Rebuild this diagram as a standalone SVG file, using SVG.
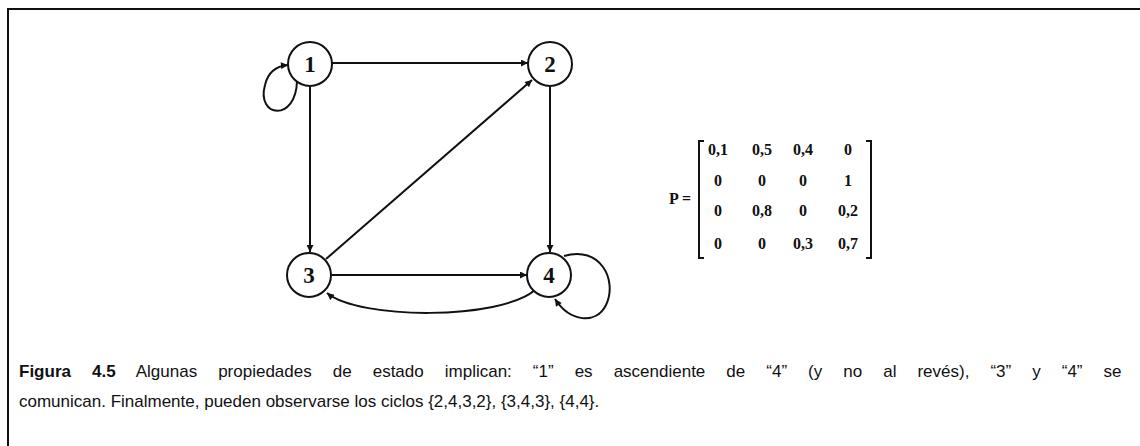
<svg xmlns="http://www.w3.org/2000/svg" width="1140" height="446" viewBox="0 0 1140 446">
<style>
.node circle{fill:#fff;stroke:#111;stroke-width:2}
.node text{font-family:"Liberation Serif",serif;font-weight:bold;font-size:23px;fill:#111;text-anchor:middle}
.edge{fill:none;stroke:#111;stroke-width:2;marker-end:url(#arr)}
.m{font-family:"Liberation Serif",serif;font-weight:bold;font-size:16px;fill:#111;text-anchor:middle}
.cap{font-family:"Liberation Sans",Arial,sans-serif;font-size:17px;fill:#111}
</style>
<defs>
<marker id="arr" viewBox="0 0 10 10" refX="10" refY="5" markerWidth="9" markerHeight="7" markerUnits="userSpaceOnUse" orient="auto">
<path d="M0,0 L10,5 L0,10 z" fill="#111"/>
</marker>
</defs>
<rect width="1140" height="446" fill="#fff"/>
<path d="M8,446 L8,9 L1140,9" fill="none" stroke="#111" stroke-width="2"/>
<g id="connectors">
<path class="edge" d="M332,63 L528,63"/>
<path class="edge" d="M310,87 L310,252"/>
<path class="edge" d="M550,87 L550,252"/>
<path class="edge" d="M331,275 L527,275"/>
<path class="edge" d="M326,259 L532,80"/>
<path class="edge" d="M535,290 C500,320 360,320 327,293"/>
<path class="edge" d="M297,81 C296,122 256,118 265,85 C268,72 277,66 288,65"/>
<path class="edge" d="M564,256 C600,245 618,280 606,305 C596,325 570,322 555,299"/>
</g>
<g id="n1" class="node"><circle cx="310" cy="64" r="22"/><text x="310" y="72">1</text></g>
<g id="n2" class="node"><circle cx="550" cy="64" r="22"/><text x="550" y="72">2</text></g>
<g id="n3" class="node"><circle cx="309" cy="275" r="22"/><text x="309" y="283">3</text></g>
<g id="n4" class="node"><circle cx="549" cy="275" r="22"/><text x="549" y="283">4</text></g>
<g id="matrix">
<text class="m" x="680" y="204" font-size="18">P =</text>
<path d="M704,141 L699,141 L699,258 L704,258" fill="none" stroke="#111" stroke-width="2"/>
<path d="M866,141 L871,141 L871,258 L866,258" fill="none" stroke="#111" stroke-width="2"/>
<text class="m" x="718" y="155">0,1</text><text class="m" x="762" y="155">0,5</text><text class="m" x="803" y="155">0,4</text><text class="m" x="848" y="155">0</text>
<text class="m" x="718" y="186">0</text><text class="m" x="762" y="186">0</text><text class="m" x="803" y="186">0</text><text class="m" x="848" y="186">1</text>
<text class="m" x="718" y="216">0</text><text class="m" x="762" y="216">0,8</text><text class="m" x="803" y="216">0</text><text class="m" x="848" y="216">0,2</text>
<text class="m" x="718" y="249">0</text><text class="m" x="762" y="249">0</text><text class="m" x="803" y="249">0,3</text><text class="m" x="848" y="249">0,7</text>
</g>
<g id="caption">
<text class="cap" x="19" y="377" word-spacing="16.3"><tspan font-weight="bold">Figura 4.5</tspan> Algunas propiedades de estado implican: “1” es ascendiente de “4” (y no al revés), “3” y “4” se</text>
<text class="cap" x="19" y="407">comunican. Finalmente, pueden observarse los ciclos {2,4,3,2}, {3,4,3}, {4,4}.</text>
</g>
</svg>
